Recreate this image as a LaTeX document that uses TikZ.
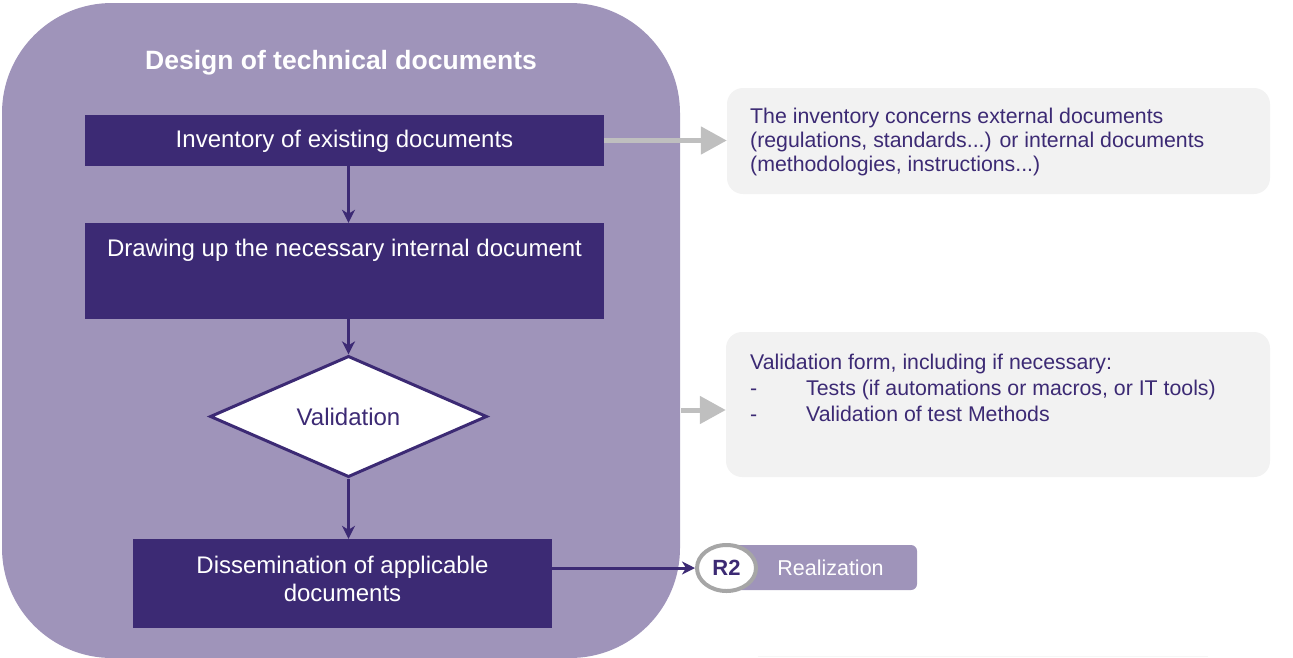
\documentclass[tikz,border=0pt]{standalone}
\usepackage{fontspec}
\setmainfont{Liberation Sans}
\usetikzlibrary{arrows.meta,shapes.geometric}
\definecolor{frameC}{RGB}{159,148,186}
\definecolor{darkP}{RGB}{60,42,116}
\definecolor{lightG}{RGB}{242,242,242}
\definecolor{arrG}{RGB}{191,191,191}
\definecolor{ringG}{RGB}{166,166,166}
\tikzset{
  stepfont/.style={font=\fontsize{24}{28}\selectfont},
  stepbox/.style={fill=darkP, draw=none, text=white, inner sep=0pt, stepfont, align=center},
  darr/.style={draw=darkP, line width=3pt, -{Stealth[length=13pt,width=13pt,inset=4pt]}},
  garr/.style={draw=arrG, line width=5pt, -{Triangle[length=26pt,width=27pt]}},
  notebox/.style={fill=lightG, draw=none, rounded corners=16pt, inner sep=0pt},
  notetext/.style={text=darkP, font=\fontsize{21.3}{24}\selectfont, align=left, inner sep=0pt, anchor=west},
}
\begin{document}
\begin{tikzpicture}[x=1pt,y=-1pt]
\useasboundingbox (0,0) rectangle (1293,657);
% container
\node[fill=frameC, draw=none, rounded corners=110pt, minimum width=678pt, minimum height=655pt, inner sep=0pt] (frame) at (341,330.5) {};
\node[text=white, font=\fontsize{26.5}{30}\selectfont\bfseries, inner sep=0pt] (title) at (341,62.5) {Design of technical documents};
% steps
\node[stepbox, minimum width=519pt, minimum height=51pt] (b1) at (344.5,140.5) {};
\node[text=white, stepfont, inner sep=0pt] (b1t) at (344.5,141) {Inventory of existing documents};
\node[stepbox, minimum width=519pt, minimum height=96pt] (b2) at (344.5,271) {};
\node[text=white, stepfont, inner sep=0pt] (b2t) at (344.5,250) {Drawing up the necessary internal document};
\node[diamond, fill=white, draw=darkP, line width=3pt, minimum width=277pt, minimum height=121pt, inner sep=0pt, text=darkP, stepfont] (val) at (348.5,416.5) {Validation};
\node[stepbox, minimum width=419pt, minimum height=89pt] (b3) at (342.5,583.5) {};
\node[text=white, stepfont, align=center, inner sep=0pt] (b3t) at (342.5,578.5) {Dissemination of applicable\\documents};
% dark arrows
\draw[darr] (b1.south -| val.center) -- (b2.north -| val.center);
\draw[darr] (b2.south -| val.center) -- (val.north);
\draw[darr] (val.south) -- (b3.north -| val.center);
% R2 badge
\node[fill=frameC, draw=none, rounded corners=6pt, minimum width=191pt, minimum height=45pt, inner sep=0pt, text=white, font=\fontsize{21.5}{24}\selectfont] (real) at (821.5,567.5) {\hspace*{18pt}Realization};
\node[ellipse, fill=white, draw=ringG, line width=4pt, minimum width=59pt, minimum height=46pt, inner sep=0pt, text=darkP, font=\fontsize{22}{24}\selectfont\bfseries] (r2) at (726.5,568) {R2};
\draw[darr] (b3.east |- r2.west) -- (r2.west);
% notes
\node[notebox, minimum width=543pt, minimum height=106pt] (g1) at (998.5,141) {};
\node[notetext] (g1t) at (750,142) {The inventory concerns external documents\\(regulations, standards...) or internal documents\\(methodologies, instructions...)};
\node[notebox, minimum width=544pt, minimum height=145pt] (g2) at (998,404.5) {};
\node[notetext, font=\fontsize{21.3}{26}\selectfont] (g2t) at (750,388) {Validation form, including if necessary:\\\makebox[56pt][l]{-}Tests (if automations or macros, or IT tools)\\\makebox[56pt][l]{-}Validation of test Methods};
% grey arrows
\draw[garr] (b1.east) -- (g1.west |- b1.east);
\coordinate (a2) at (681,410);
\draw[garr] (a2) -- (a2 -| g2.west);
% faint rule
\draw[draw={rgb,255:red,246;green,246;blue,246}, line width=1pt] (758,656) -- (1208,656);
\end{tikzpicture}
\end{document}
